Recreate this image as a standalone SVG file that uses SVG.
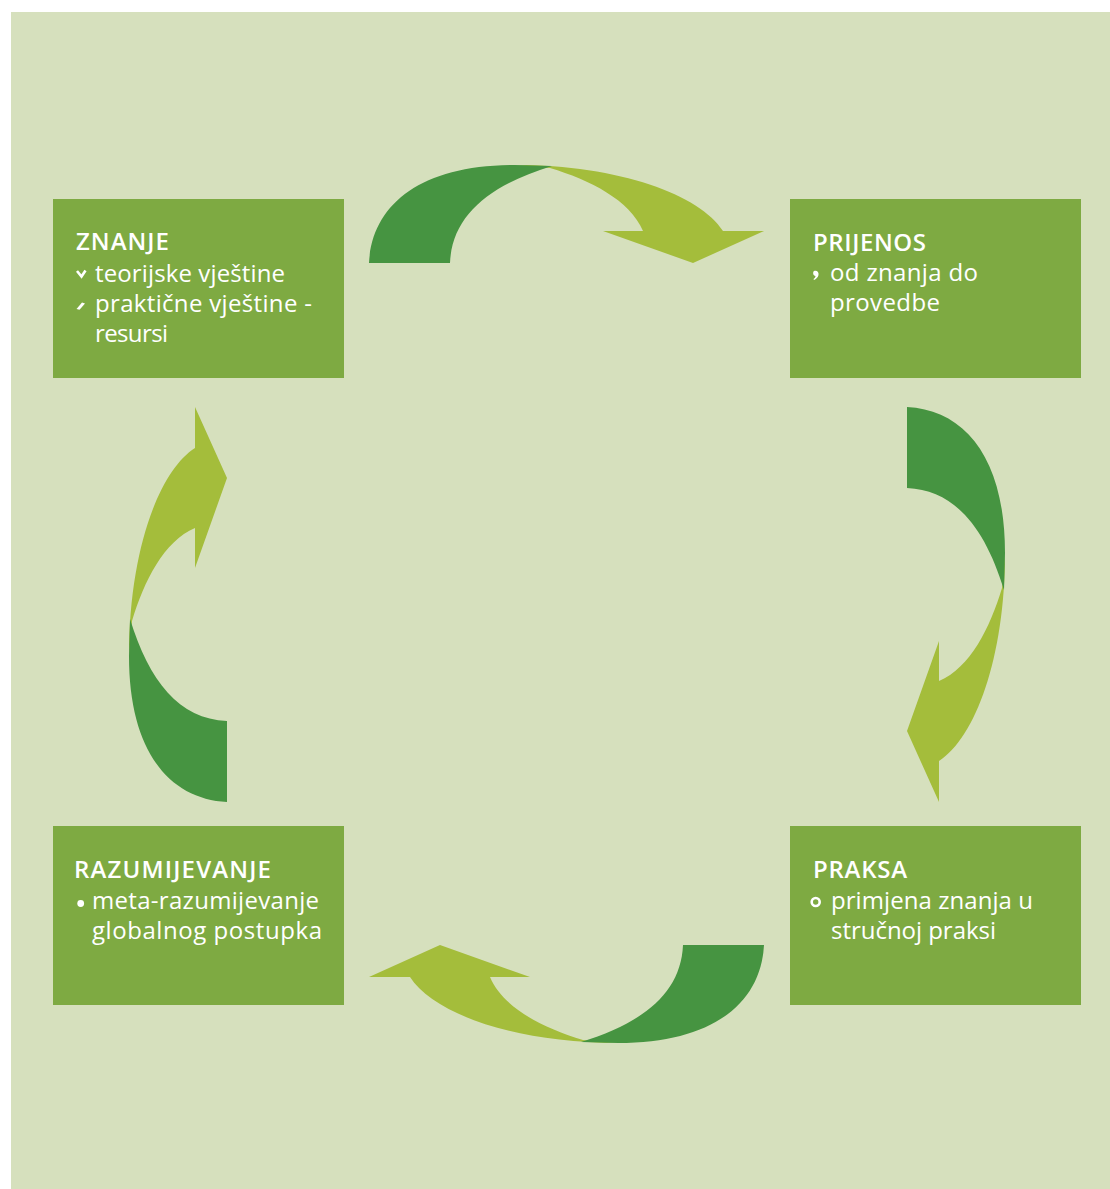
<svg xmlns="http://www.w3.org/2000/svg" xmlns:xlink="http://www.w3.org/1999/xlink" width="1110" height="1189" viewBox="0 0 1110 1189">
<style>
.box{fill:#7eaa42}
.ttl{font-family:"Open Sans","Noto Sans",sans-serif;font-size:24px;font-weight:600;fill:#ffffff}
.txt{font-family:"Open Sans","Noto Sans",sans-serif;font-size:24px;fill:#ffffff}
.dark{fill:#469441}
.light{fill:#a4bd3b}
.blt{fill:none;stroke:#ffffff;stroke-width:2.6}
</style>
<defs>
<g id="arc">
<path class="light" d="M515,165 C620,165 700,195 723,231 L764,231 L693,263 L603,231 L643,231 C630,200 590,180 550,168 Z"/>
<path class="dark" d="M369,263 C372,205 420,165 515,165 L552,166 C490,185 452,215 450,263 Z"/>
</g>
</defs>
<rect x="11" y="12" width="1099" height="1177" fill="#d6e0bd"/>
<g id="connectors">
<use xlink:href="#arc"/>
<use xlink:href="#arc" transform="matrix(0,1,-1,0,1170,38)"/>
<use xlink:href="#arc" transform="matrix(-1,0,0,-1,1133,1208)"/>
<use xlink:href="#arc" transform="matrix(0,-1,1,0,-36,1171)"/>
</g>
<g id="znanje">
<rect class="box" x="53" y="199" width="291" height="179"/>
<text class="ttl" x="76" y="250" textLength="93" lengthAdjust="spacing">ZNANJE</text>
<path class="blt" d="M77,271 L81.5,276.5 L85.5,270.5"/>
<path d="M76.5,309 L82,302.5 L85,303.5 L79.5,309.8 Z" fill="#ffffff"/>
<text class="txt" x="95" y="282" textLength="190" lengthAdjust="spacing">teorijske vještine</text>
<text class="txt" x="95" y="312" textLength="217" lengthAdjust="spacing">praktične vještine -</text>
<text class="txt" x="95" y="342" textLength="73" lengthAdjust="spacing">resursi</text>
</g>
<g id="prijenos">
<rect class="box" x="790" y="199" width="291" height="179"/>
<text class="ttl" x="813" y="251" textLength="113" lengthAdjust="spacing">PRIJENOS</text>
<path d="M814,271 C817,270 819,272 818.5,275 C818,277.5 816,279 814,280 L813.5,279 C815,278 815.5,277 815.5,276 C813,276 812.5,272 814,271 Z" fill="#ffffff"/>
<text class="txt" x="830" y="281" textLength="148" lengthAdjust="spacing">od znanja do</text>
<text class="txt" x="830" y="311" textLength="110" lengthAdjust="spacing">provedbe</text>
</g>
<g id="razumijevanje">
<rect class="box" x="53" y="826" width="291" height="179"/>
<text class="ttl" x="74" y="878" textLength="197" lengthAdjust="spacing">RAZUMIJEVANJE</text>
<circle cx="80.7" cy="903.5" r="3.4" fill="#ffffff"/>
<text class="txt" x="92" y="909" textLength="227" lengthAdjust="spacing">meta-razumijevanje</text>
<text class="txt" x="92" y="939" textLength="230" lengthAdjust="spacing">globalnog postupka</text>
</g>
<g id="praksa">
<rect class="box" x="790" y="826" width="291" height="179"/>
<text class="ttl" x="813" y="878" textLength="94" lengthAdjust="spacing">PRAKSA</text>
<circle class="blt" cx="815.7" cy="902" r="4"/>
<text class="txt" x="831" y="909" textLength="202" lengthAdjust="spacing">primjena znanja u</text>
<text class="txt" x="831" y="939" textLength="165" lengthAdjust="spacing">stručnoj praksi</text>
</g>
</svg>
